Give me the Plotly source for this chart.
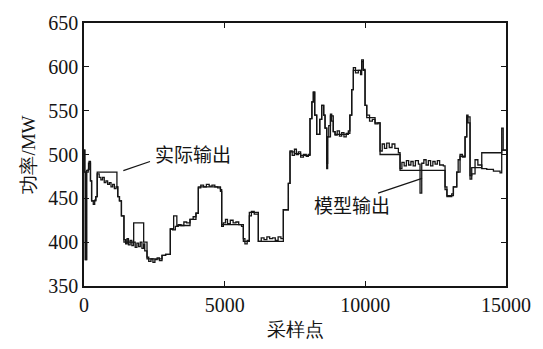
import plotly.graph_objects as go

# Sample index / power (MW) for the model output (fine steps)
model_x = [0, 25, 45, 90, 150, 180, 230, 270, 330, 380, 420, 470, 540, 600, 660, 720, 780, 840, 900, 960,
           1020, 1080, 1140, 1200, 1260, 1330, 1420, 1480, 1530, 1580, 1640, 1700, 1760, 1820, 1880, 1940,
           2000, 2060, 2121, 2160, 2240, 2300, 2380, 2450, 2520, 2600, 2680, 2773, 2900, 3069, 3150, 3246,
           3350, 3450, 3550, 3650, 3768, 3880, 3980, 4064, 4150, 4250, 4350, 4450, 4550, 4650, 4750, 4850,
           4894, 4953, 5030, 5100, 5200, 5300, 5400, 5500, 5600, 5664, 5720, 5800, 5877, 5950, 6050, 6197,
           6300, 6400, 6500, 6600, 6700, 6800, 6900, 7000, 7086, 7264, 7323, 7400, 7480, 7550, 7620, 7700,
           7800, 7900, 7975, 8034, 8100, 8152, 8200, 8271, 8380, 8449, 8520, 8568, 8627, 8660, 8700, 8760,
           8805, 8860, 8924, 9000, 9080, 9160, 9240, 9320, 9396, 9450, 9516, 9574, 9650, 9750, 9830, 9871,
           9930, 9990, 10050, 10150, 10250, 10345, 10450, 10523, 10600, 10680, 10760, 10850, 10950, 11050,
           11174, 11234, 11300, 11380, 11460, 11540, 11620, 11700, 11780, 11886, 11945, 12005, 12080, 12160,
           12240, 12320, 12400, 12480, 12560, 12640, 12773, 12834, 12900, 13071, 13130, 13249, 13300, 13367,
           13450, 13545, 13604, 13650, 13722, 13782, 13900, 14000, 14138, 14316, 14553, 14789, 14848, 14900,
           15000]
model_y = [505, 480, 380, 480, 483, 492, 470, 447, 443, 448, 452, 478, 474, 471, 474, 468, 470, 466, 468, 463,
           466, 461, 463, 452, 447, 430, 403, 398, 404, 397, 402, 396, 400, 394, 399, 395,
           400, 393, 398, 390, 383, 378, 381, 377, 380, 382, 379, 385, 386, 415, 414, 418,
           420, 419, 423, 422, 426, 429, 433, 462, 465, 463, 466, 464, 465, 463, 462, 458,
           418, 422, 426, 421, 425, 422, 423, 420, 418, 404, 398, 402, 430, 435, 432, 401,
           405, 403, 406, 404, 405, 402, 406, 404, 437, 467, 504, 499, 506, 500, 503, 497,
           500, 498, 500, 541, 560, 571, 545, 523, 540, 556, 545, 530, 484, 520, 533, 546,
           538, 526, 522, 527, 521, 525, 520, 524, 527, 545, 574, 599, 593, 596, 591, 608,
           597, 556, 545, 538, 540, 535, 536, 504, 512, 507, 513, 508, 512, 507,
           502, 484, 491, 487, 493, 488, 492, 487, 493, 489, 456, 490, 494, 488,
           493, 487, 492, 489, 493, 488, 487, 463, 452, 455, 463, 480, 494, 500,
           497, 520, 545, 536, 472, 478, 494, 488, 484, 483, 481, 479, 530, 505,
           505]

# Sample index / power (MW) for the actual output (coarser steps)
actual_x = [0, 30, 50, 95, 160, 230, 270, 420, 470, 1170, 1200, 1260, 1330, 1420, 1766, 2121, 2240,
            2773, 2900, 3069, 3187, 3300, 3768, 3980, 4064, 4850, 4894, 5664, 5877, 6197, 7086, 7264,
            7323, 7480, 7700, 8034, 8100, 8152, 8200, 8271, 8380, 8449, 8520, 8568, 8627, 8660, 8760,
            8860, 8924, 9396, 9450, 9516, 9574, 9871, 9930, 9990, 10050, 10345, 10523, 11234, 12834,
            12900, 13130, 13249, 13367, 13545, 13604, 13722, 13782, 14138, 14848, 15000]
actual_y = [505, 480, 380, 482, 490, 470, 447, 452, 480, 463, 452, 447, 430, 400, 422, 400, 381,
            385, 386, 415, 430, 419, 426, 433, 463, 460, 420, 401, 434, 401, 437, 467,
            503, 501, 499, 541, 560, 571, 545, 523, 540, 556, 545, 530, 490, 520, 544,
            526, 523, 524, 545, 574, 596, 606, 596, 556, 542, 536, 500, 482, 460,
            453, 463, 480, 498, 520, 543, 476, 485, 502, 505, 505]

x_ticks = [0, 5000, 10000, 15000]
y_ticks = [350, 400, 450, 500, 550, 600, 650]

serif = "Liberation Serif"
cjk = "Noto Sans CJK SC"
ink = "#151515"

fig = go.Figure()
fig.add_trace(go.Scatter(x=actual_x, y=actual_y, mode="lines", line_shape="hv",
                         line=dict(color=ink, width=1.3), name="实际输出"))
fig.add_trace(go.Scatter(x=model_x, y=model_y, mode="lines", line_shape="hv",
                         line=dict(color=ink, width=1.3), name="模型输出"))

# Leader lines and labels for the two curves
fig.add_shape(type="line", x0=1398, y0=481.6, x1=2346, y1=492, line=dict(color=ink, width=1.2))
fig.add_shape(type="line", x0=10452, y0=456, x1=12016, y1=472.7, line=dict(color=ink, width=1.2))
fig.add_annotation(x=3875, y=500.6, text="实际输出", showarrow=False,
                   font=dict(family=cjk, size=19, color=ink))
fig.add_annotation(x=9527, y=442.6, text="模型输出", showarrow=False,
                   font=dict(family=cjk, size=19, color=ink))

fig.update_xaxes(range=[0, 15000], tickmode="array", tickvals=x_ticks, tickformat="d",
                 tickfont=dict(family=serif, size=20, color=ink),
                 title=dict(text="采样点", font=dict(family=serif, size=19, color=ink), standoff=8))
fig.update_yaxes(range=[350, 650], tickmode="array", tickvals=y_ticks, tickformat="d",
                 tickfont=dict(family=serif, size=20, color=ink),
                 title=dict(text="功率/MW", font=dict(family=serif, size=19, color=ink), standoff=8))
fig.update_xaxes(showline=True, linecolor=ink, linewidth=1.5, mirror="ticks",
                 ticks="inside", ticklen=5, tickcolor=ink, tickwidth=1.2,
                 showgrid=False, zeroline=False)
fig.update_yaxes(showline=True, linecolor=ink, linewidth=1.5, mirror="ticks",
                 ticks="inside", ticklen=5, tickcolor=ink, tickwidth=1.2,
                 showgrid=False, zeroline=False)

fig.update_layout(width=543, height=349, margin=dict(l=84, r=37, t=19, b=61),
                  font=dict(family=serif, color=ink),
                  paper_bgcolor="white", plot_bgcolor="white", showlegend=False)

fig.write_html("out.html")
